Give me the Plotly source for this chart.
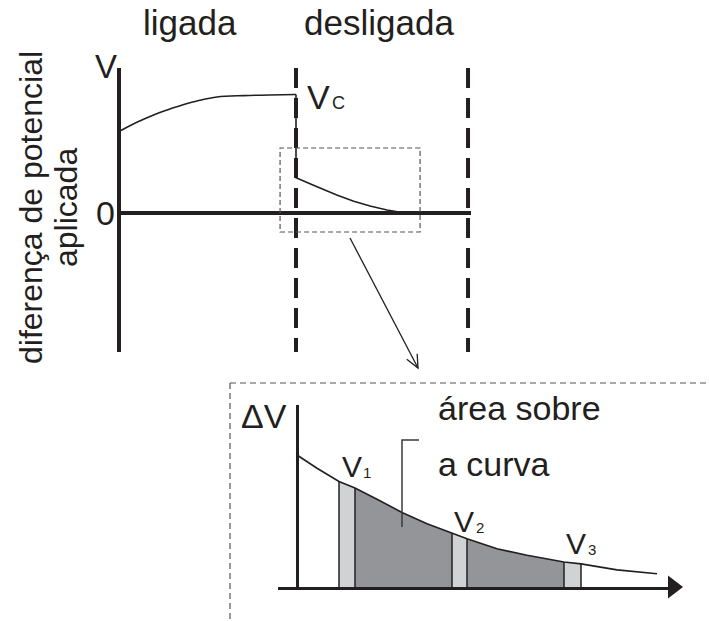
import numpy as np
import plotly.graph_objects as go

W, H = 709, 621
def px(x): return x / W
def py(y): return 1 - y / H

INK = "#231f20"
FONT = "Liberation Sans, Arial, sans-serif"

# ---- main diagram data (time in arbitrary units, voltage relative to Vc) ----
t_charge = [0, 0.1, 0.2, 0.263, 0.35, 0.45, 0.549, 0.7, 0.85, 1.0]
v_charge = [0.70, 0.775, 0.84, 0.873, 0.915, 0.955, 0.983, 0.995, 1.0, 1.005]
t_off = [1.0, 1.0, 1.1, 1.233, 1.33, 1.423, 1.52, 1.623]
v_off = [1.005, 0.30, 0.235, 0.153, 0.10, 0.059, 0.025, 0.0]
t_switch = [1.0, 1.983]
zoom_box_t = [0.909, 1.709]
zoom_box_v = [-0.161, 0.551]

# ---- inset data ----
x_dv = [0, 0.2, 0.42, 0.58, 0.8, 1.05, 1.3, 1.55, 1.70, 2.0, 2.3, 2.67, 2.84, 3.2, 3.6]
v_dv = [1.0, 0.90, 0.80, 0.75, 0.665, 0.565, 0.48, 0.41, 0.365, 0.29, 0.24, 0.19, 0.175, 0.13, 0.10]
light_bands = [(0.42, 0.58), (1.55, 1.70), (2.67, 2.84)]
dark_bands = [(0.58, 1.55), (1.70, 2.67)]
band_labels = ["V", "V", "V"]
band_subs = ["1", "2", "3"]

fig = go.Figure()

# main curves
fig.add_trace(go.Scatter(x=t_charge, y=v_charge, mode="lines", line=dict(color=INK, width=1.6, shape="spline"),
                         xaxis="x", yaxis="y", hoverinfo="skip"))
fig.add_trace(go.Scatter(x=t_off, y=v_off, mode="lines", line=dict(color=INK, width=1.6),
                         xaxis="x", yaxis="y", hoverinfo="skip"))

# inset bands
def band(a, b):
    xs = [a] + [x for x in x_dv if a < x < b] + [b]
    vs = list(np.interp(xs, x_dv, v_dv))
    return xs + [b, a, a], vs + [0, 0, vs[0]]

for (a, b) in dark_bands:
    xs, vs = band(a, b)
    fig.add_trace(go.Scatter(x=xs, y=vs, fill="toself", fillcolor="#939598", mode="lines",
                             line=dict(width=0), xaxis="x2", yaxis="y2", hoverinfo="skip"))
for (a, b) in light_bands:
    xs, vs = band(a, b)
    fig.add_trace(go.Scatter(x=xs, y=vs, fill="toself", fillcolor="#d1d2d4", mode="lines",
                             line=dict(width=0), xaxis="x2", yaxis="y2", hoverinfo="skip"))
# band edges
ex, ey = [], []
for (a, b) in light_bands:
    for e in (a, b):
        ex += [e, e, None]
        ey += [0, float(np.interp(e, x_dv, v_dv)), None]
fig.add_trace(go.Scatter(x=ex, y=ey, mode="lines", line=dict(color=INK, width=1.5),
                         xaxis="x2", yaxis="y2", hoverinfo="skip"))
# inset curve
fig.add_trace(go.Scatter(x=x_dv, y=v_dv, mode="lines", line=dict(color=INK, width=1.6),
                         xaxis="x2", yaxis="y2", hoverinfo="skip"))
# arrow head on inset x axis
fig.add_trace(go.Scatter(x=[3.76], y=[0], mode="markers",
                         marker=dict(symbol="triangle-right", size=20, color=INK),
                         xaxis="x2", yaxis="y2", hoverinfo="skip", cliponaxis=False))

shapes = []
for t in t_switch:
    shapes.append(dict(type="line", xref="x", yref="paper", x0=t, x1=t, y0=py(68), y1=py(352),
                       line=dict(color=INK, width=4, dash="20px,10px")))
shapes.append(dict(type="rect", xref="x", yref="y", x0=zoom_box_t[0], x1=zoom_box_t[1],
                   y0=zoom_box_v[0], y1=zoom_box_v[1], line=dict(color="#555555", width=1.2, dash="5px,3px")))
# inset frame (dashed)
shapes.append(dict(type="line", xref="paper", yref="paper", x0=px(230), x1=px(709), y0=py(383), y1=py(383),
                   line=dict(color="#555555", width=1.2, dash="6px,4px")))
shapes.append(dict(type="line", xref="paper", yref="paper", x0=px(230), x1=px(230), y0=py(383), y1=py(621),
                   line=dict(color="#555555", width=1.2, dash="6px,4px")))
# bracket leader for area label
shapes.append(dict(type="path", xref="paper", yref="paper",
                   path=f"M {px(419)} {py(440)} L {px(402)} {py(440)} L {px(402)} {py(527)}",
                   line=dict(color="#3a3a3a", width=1.5)))
# arrow from zoom box to inset
sx, sy, ex_, ey_ = 350, 238, 418, 368
shapes.append(dict(type="line", xref="paper", yref="paper", x0=px(sx), y0=py(sy), x1=px(ex_), y1=py(ey_),
                   line=dict(color=INK, width=1.3)))
d = np.array([ex_ - sx, ey_ - sy], float); d /= np.linalg.norm(d)
n = np.array([-d[1], d[0]])
L = 13
p1 = np.array([ex_, ey_]) - L * d + 0.45 * L * n
p2 = np.array([ex_, ey_]) - L * d - 0.45 * L * n
shapes.append(dict(type="path", xref="paper", yref="paper",
                   path=f"M {px(p1[0])} {py(p1[1])} L {px(ex_)} {py(ey_)} L {px(p2[0])} {py(p2[1])}",
                   line=dict(color=INK, width=1.3)))

def txt(s, x, y, size, xanchor="center", angle=0):
    return dict(text=s, x=px(x), y=py(y), xref="paper", yref="paper", showarrow=False,
                xanchor=xanchor, yanchor="middle", textangle=angle,
                font=dict(family=FONT, size=size, color=INK))

ann = [
    txt("ligada", 190, 22, 35),
    txt("desligada", 379, 22, 35),
    txt("V", 106, 66, 33),
    txt("0", 105, 213, 34),
    txt("V", 318, 97, 34),
    txt("C", 338, 103, 18),
    txt("diferença de potencial", 31, 208, 32, angle=-90),
    txt("aplicada", 66, 208, 32, angle=-90),
    txt("ΔV", 264, 416, 34),
    txt("área sobre", 436, 408, 34, xanchor="left"),
    txt("a curva", 436, 464, 34, xanchor="left"),
]
lab_pos = [(352, 466, 367, 472), (464, 521, 480, 527), (576, 543, 592, 549)]
for lab, sub, (vx, vy, sx2, sy2) in zip(band_labels, band_subs, lab_pos):
    ann.append(txt(lab, vx, vy, 30))
    ann.append(txt(sub, sx2, sy2, 15))

fig.update_layout(
    width=W, height=H, margin=dict(l=0, r=0, t=0, b=0),
    paper_bgcolor="white", plot_bgcolor="rgba(0,0,0,0)", showlegend=False,
    xaxis=dict(domain=[px(121), px(471)], range=[0, 2.0], showgrid=False, zeroline=False,
               showticklabels=False, showline=False, anchor="y", fixedrange=True),
    yaxis=dict(domain=[py(352), py(68)], range=[-1.178, 1.229], showgrid=False, zeroline=True,
               zerolinecolor=INK, zerolinewidth=4, showticklabels=False, showline=True,
               linecolor=INK, linewidth=4, anchor="x", fixedrange=True),
    xaxis2=dict(domain=[px(278), px(675)], range=[-0.19, 3.78], showgrid=False, zeroline=True,
                zerolinecolor=INK, zerolinewidth=3, showticklabels=False, showline=True,
                linecolor=INK, linewidth=3, anchor="y2", fixedrange=True),
    yaxis2=dict(domain=[py(587), py(405)], range=[0, 1.379], showgrid=False, zeroline=False,
                showticklabels=False, showline=False, anchor="x2", fixedrange=True),
    shapes=shapes, annotations=ann,
)

fig.write_html("out.html", config={"displayModeBar": False},
               post_script="document.body.style.margin='0';")
